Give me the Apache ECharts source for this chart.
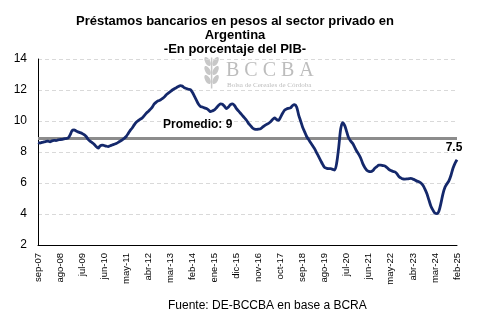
<!DOCTYPE html>
<html>
<head>
<meta charset="utf-8">
<script src="https://cdn.jsdelivr.net/npm/echarts@6/dist/echarts.min.js"></script>
<style>
html,body{margin:0;padding:0;background:#fff;}
#c{width:492px;height:325px;}
</style>
</head>
<body>
<div id="c"></div>
<script>
// Month names (Spanish) and range of the series
const monthNames = ['ene','feb','mar','abr','may','jun','jul','ago','sep','oct','nov','dic'];
const startYear = 2007, startMonth = 8; // sep-07
const nMonths = 210;                     // sep-07 .. feb-25

// Préstamos en pesos al sector privado, % del PIB (monthly)
const v2007 = [8.6, 8.58, 8.62, 8.65];
const v2008 = [8.68, 8.7, 8.66, 8.72, 8.75, 8.74, 8.78, 8.8, 8.82, 8.85, 8.87, 8.9];
const v2009 = [9.1, 9.38, 9.42, 9.36, 9.3, 9.25, 9.2, 9.12, 9.0, 8.82, 8.7, 8.6];
const v2010 = [8.5, 8.35, 8.25, 8.4, 8.45, 8.42, 8.38, 8.35, 8.4, 8.45, 8.5, 8.55];
const v2011 = [8.62, 8.7, 8.78, 8.88, 9.0, 9.2, 9.4, 9.55, 9.75, 9.92, 10.02, 10.12];
const v2012 = [10.2, 10.35, 10.5, 10.62, 10.75, 10.9, 11.1, 11.22, 11.3, 11.35, 11.45, 11.55];
const v2013 = [11.7, 11.8, 11.9, 12.0, 12.08, 12.15, 12.22, 12.28, 12.25, 12.15, 12.1, 12.05];
const v2014 = [12.02, 11.85, 11.6, 11.35, 11.1, 10.95, 10.9, 10.85, 10.8, 10.72, 10.6, 10.65];
const v2015 = [10.72, 10.85, 11.0, 11.1, 11.08, 10.95, 10.8, 10.9, 11.05, 11.1, 11.0, 10.8];
const v2016 = [10.65, 10.5, 10.35, 10.2, 10.05, 9.85, 9.7, 9.55, 9.48, 9.46, 9.47, 9.5];
const v2017 = [9.6, 9.7, 9.78, 9.85, 9.95, 10.1, 10.2, 10.1, 10.05, 10.25, 10.5, 10.7];
const v2018 = [10.78, 10.82, 10.85, 11.0, 11.05, 10.9, 10.4, 10.0, 9.6, 9.3, 9.0, 8.8];
const v2019 = [8.6, 8.4, 8.2, 7.95, 7.7, 7.45, 7.2, 7.0, 6.95, 6.93, 6.92, 6.88];
const v2020 = [6.84, 7.3, 8.3, 9.5, 9.9, 9.7, 9.3, 8.9, 8.7, 8.55, 8.3, 8.05];
const v2021 = [7.85, 7.6, 7.25, 7.0, 6.82, 6.75, 6.73, 6.8, 6.95, 7.05, 7.15, 7.15];
const v2022 = [7.12, 7.1, 7.0, 6.88, 6.8, 6.75, 6.72, 6.6, 6.42, 6.33, 6.26, 6.25];
const v2023 = [6.26, 6.28, 6.3, 6.25, 6.2, 6.12, 6.08, 6.0, 5.85, 5.6, 5.3, 4.9];
const v2024 = [4.5, 4.25, 4.05, 4.03, 4.2, 4.7, 5.3, 5.72, 5.95, 6.15, 6.5, 6.95];
const v2025 = [7.27, 7.5];

const promedio = 8.9;         // drawn average line
const promedioLabel = 'Promedio: 9';
const yTicks = {min: 2, max: 14, interval: 2};

const values = [].concat(v2007, v2008, v2009, v2010, v2011, v2012, v2013, v2014, v2015,
  v2016, v2017, v2018, v2019, v2020, v2021, v2022, v2023, v2024, v2025);

const categories = [];
for (let k = 0; k < nMonths; k++) {
  const m = (startMonth + k) % 12;
  const y = startYear + Math.floor((startMonth + k) / 12);
  categories.push(monthNames[m] + '-' + String(y % 100).padStart(2, '0'));
}

const lastIdx = values.length - 1;

const FONT = 'Liberation Sans, Arial, sans-serif';
const chart = echarts.init(document.getElementById('c'));
chart.setOption({
  animation: false,
  backgroundColor: '#fff',
  title: {
    text: 'Préstamos bancarios en pesos al sector privado en\nArgentina\n-En porcentaje del PIB-',
    left: 230, top: 9, textAlign: 'center',
    textStyle: {fontFamily: FONT, fontSize: 13, fontWeight: 'bold', color: '#000', lineHeight: 14}
  },
  grid: {left: 38, right: 35, top: 59, bottom: 80, containLabel: false},
  xAxis: {
    type: 'category', data: categories, boundaryGap: false,
    axisLine: {lineStyle: {color: '#000', width: 1}},
    axisTick: {show: false},
    axisLabel: {interval: 10, rotate: 90, fontFamily: FONT, fontSize: 9.5, color: '#000', margin: 8},
    splitLine: {show: false}
  },
  yAxis: {
    type: 'value', min: yTicks.min, max: yTicks.max, interval: yTicks.interval,
    axisLine: {show: true, lineStyle: {color: '#000', width: 1}},
    axisTick: {show: false},
    axisLabel: {fontFamily: FONT, fontSize: 12, color: '#000', margin: 11},
    splitLine: {lineStyle: {color: '#d9d9d9', type: [4, 3]}}
  },
  series: [{
    type: 'line', data: values, showSymbol: false, symbol: 'none', smooth: 0.3,
    lineStyle: {color: '#14286b', width: 2.8},
    z: 3,
    markLine: {
      silent: true, symbol: 'none',
      label: {show: false},
      lineStyle: {color: '#8c8c8c', width: 3, type: 'solid'},
      data: [{yAxis: promedio}],
      z: 2
    },
    markPoint: {
      silent: true,
      symbol: 'circle', symbolSize: 1,
      itemStyle: {color: 'rgba(0,0,0,0)'},
      label: {show: true, position: 'top', distance: 6, offset: [-3, 0], formatter: '{c}',
              fontFamily: FONT, fontWeight: 'bold', fontSize: 12, color: '#000'},
      data: [{coord: [lastIdx, values[lastIdx]], value: values[lastIdx]}]
    }
  }],
  graphic: [
    {type: 'text', left: 163, top: 119, z: 10,
     style: {text: promedioLabel, font: 'bold 12px ' + FONT, fill: '#000'}},
    {type: 'text', left: 226, top: 61, z: 0,
     style: {text: 'B C C B A', font: '20px "Liberation Serif", "DejaVu Serif", serif', fill: '#bdbdbd'}},
    {type: 'text', left: 227, top: 82, z: 0,
     style: {text: 'Bolsa de Cereales de Córdoba', font: '7px "Liberation Serif", serif', fill: '#bdbdbd'}},
    {type: 'group', left: 203, top: 55, z: 0, children: [
      {type: 'line', shape: {x1: 10, y1: 4, x2: 10, y2: 35}, style: {stroke: '#c8c8c8', lineWidth: 1.5}},
      {type: 'ellipse', shape: {cx: 6, cy: 8, rx: 2.5, ry: 5}, rotation: 0.5, originX: 6, originY: 8, style: {fill: '#c8c8c8'}},
      {type: 'ellipse', shape: {cx: 14, cy: 8, rx: 2.5, ry: 5}, rotation: -0.5, originX: 14, originY: 8, style: {fill: '#c8c8c8'}},
      {type: 'ellipse', shape: {cx: 6, cy: 17, rx: 2.5, ry: 5}, rotation: 0.5, originX: 6, originY: 17, style: {fill: '#c8c8c8'}},
      {type: 'ellipse', shape: {cx: 14, cy: 17, rx: 2.5, ry: 5}, rotation: -0.5, originX: 14, originY: 17, style: {fill: '#c8c8c8'}},
      {type: 'ellipse', shape: {cx: 6, cy: 26, rx: 2.5, ry: 5}, rotation: 0.5, originX: 6, originY: 26, style: {fill: '#c8c8c8'}},
      {type: 'ellipse', shape: {cx: 14, cy: 26, rx: 2.5, ry: 5}, rotation: -0.5, originX: 14, originY: 26, style: {fill: '#c8c8c8'}}
    ]},
    {type: 'text', left: 168, top: 300, z: 10,
     style: {text: 'Fuente: DE-BCCBA en base a BCRA', font: '12px ' + FONT, fill: '#000'}}
  ]
});
</script>
</body>
</html>
